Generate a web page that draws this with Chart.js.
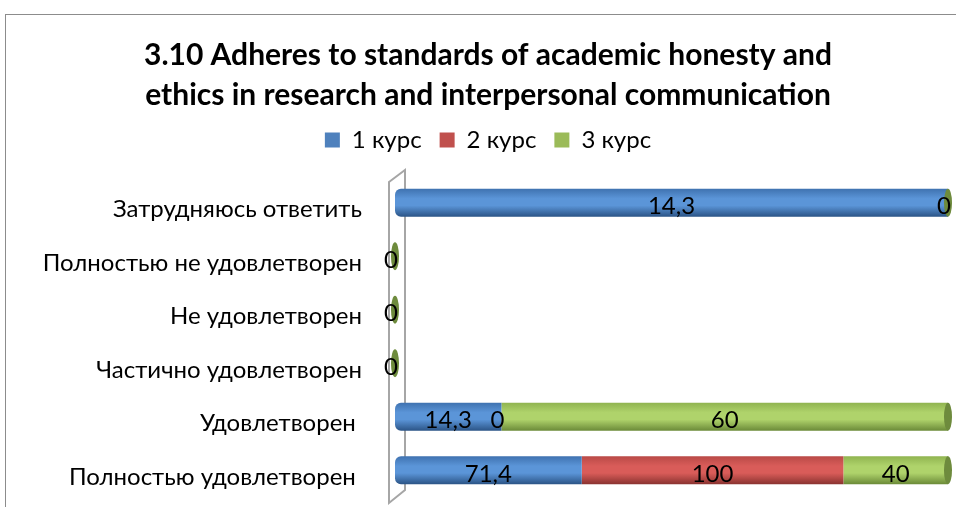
<!DOCTYPE html>
<html>
<head>
<meta charset="utf-8">
<script src="https://cdn.jsdelivr.net/npm/chart.js@4.4.1/dist/chart.umd.min.js"></script>
<style>
  body { margin: 0; background: #fff; overflow: hidden; }
  #frame { position: absolute; left: 5px; top: 14px; width: 1000px; height: 600px; border: 1px solid #8c8c8c; }
  #wrap { position: absolute; left: 0; top: 0; width: 956px; height: 507px; }
</style>
</head>
<body>
<div id="frame"></div>
<div id="wrap"><canvas id="bar-chart"></canvas></div>
<script>
const categories = [
  "Затрудняюсь ответить",
  "Полностью не удовлетворен",
  "Не удовлетворен",
  "Частично удовлетворен",
  "Удовлетворен ",
  "Полностью удовлетворен "
];
const seriesNames = ["1 курс", "2 курс", "3 курс"];
const kurs1 = [14.3, null, null, null, 14.3, 71.4];
const kurs2 = [null, null, null, null, 0, 100];
const kurs3 = [0, 0, 0, 0, 60, 40];

const FONT = "Lato, 'Noto Sans', sans-serif";
const colors = [
  { top: "#3f72b0", mid: "#5b95d8", bot: "#2b5486" },
  { top: "#b94a47", mid: "#d95c59", bot: "#8a3330" },
  { top: "#90b450", mid: "#afd36b", bot: "#6b8a38" }
];
const legendColors = ["#4f81bd", "#c0504d", "#9bbb59"];
const capColor = "#6e8b3d";

const raw = [kurs1, kurs2, kurs3];
// 100% stacked: turn each row into shares
const totals = categories.map((c, i) => raw.reduce((s, arr) => s + (arr[i] || 0), 0));
const shares = raw.map(arr => arr.map((v, i) => v === null ? null : (totals[i] ? v / totals[i] * 100 : 0)));

function cylinder(idx) {
  return function (ctx) {
    const chart = ctx.chart;
    const ys = chart.scales.y;
    if (!chart.chartArea || !ys) return legendColors[idx];
    const y = ys.getPixelForValue(ctx.dataIndex);
    const half = Math.abs(ys.getPixelForValue(1) - ys.getPixelForValue(0)) * 0.9 * 0.58 / 2;
    const g = chart.ctx.createLinearGradient(0, y - half, 0, y + half);
    g.addColorStop(0, colors[idx].top);
    g.addColorStop(0.35, colors[idx].mid);
    g.addColorStop(0.6, colors[idx].mid);
    g.addColorStop(1, colors[idx].bot);
    return g;
  };
}

const wallPlugin = {
  id: "wall",
  beforeDatasetsDraw(chart) {
    const { ctx, chartArea: a } = chart;
    ctx.save();
    ctx.strokeStyle = "#a6a6a6";
    ctx.lineWidth = 2;
    ctx.beginPath();
    ctx.moveTo(a.left - 6, a.top + 6);
    ctx.lineTo(a.left + 10, a.top - 6);
    ctx.lineTo(a.left + 10, a.bottom - 7);
    ctx.lineTo(a.left - 6, a.bottom + 6);
    ctx.closePath();
    ctx.stroke();
    ctx.restore();
  }
};

const labelPlugin = {
  id: "valueLabels",
  afterDatasetsDraw(chart) {
    const ctx = chart.ctx;
    ctx.save();
    // end caps of the cylinders
    categories.forEach((c, i) => {
      let last = -1;
      raw.forEach((arr, d) => { if (arr[i] !== null) last = d; });
      if (last < 0) return;
      const el = chart.getDatasetMeta(last).data[i];
      ctx.fillStyle = capColor;
      ctx.beginPath();
      ctx.ellipse(el.x, el.y, 4, el.height / 2, 0, 0, Math.PI * 2);
      ctx.fill();
    });
    ctx.font = "24px " + FONT;
    ctx.fillStyle = "#000";
    ctx.textBaseline = "middle";
    raw.forEach((arr, d) => {
      const meta = chart.getDatasetMeta(d);
      arr.forEach((v, i) => {
        if (v === null) return;
        const el = meta.data[i];
        const txt = String(v).replace(".", ",");
        if (v === 0) {
          ctx.textAlign = "right";
          ctx.fillText(txt, el.x + 3, el.y + 4);
        } else {
          ctx.textAlign = "center";
          ctx.fillText(txt, (el.base + el.x) / 2, el.y + 4);
        }
      });
    });
    ctx.restore();
  }
};

new Chart(document.getElementById("bar-chart"), {
  type: "bar",
  data: {
    labels: categories,
    datasets: seriesNames.map((name, d) => ({
      label: name,
      data: shares[d],
      backgroundColor: cylinder(d),
      borderWidth: 0,
      borderSkipped: d === 0 ? false : "start",
      borderRadius: d === 0 ? { topLeft: 6, bottomLeft: 6, topRight: 0, bottomRight: 0 } : 0,
      barPercentage: 0.9,
      categoryPercentage: 0.58
    }))
  },
  plugins: [wallPlugin, labelPlugin],
  options: {
    indexAxis: "y",
    responsive: true,
    maintainAspectRatio: false,
    animation: false,
    layout: { padding: { left: 28, right: 8, top: 0, bottom: 10 } },
    scales: {
      x: {
        stacked: true,
        min: 0,
        max: 100,
        position: "top",
        ticks: { display: false },
        grid: { display: false, drawTicks: false },
        border: { display: false },
        afterFit(scale) { scale.height = 14; }
      },
      y: {
        stacked: true,
        grid: { display: false, drawTicks: false },
        border: { display: false },
        ticks: {
          padding: 33,
          labelOffset: 7,
          color: "#000",
          font: { family: FONT, size: 24 }
        },
        afterFit(scale) {
          scale.width = 367;
          scale.paddingTop = 0;
          scale.paddingBottom = 0;
        }
      }
    },
    plugins: {
      tooltip: { enabled: false },
      title: {
        display: true,
        text: [
          "3.10 Adheres to standards of academic honesty and",
          "ethics in research and interpersonal communication"
        ],
        color: "#000",
        font: { family: FONT, size: 30, weight: "bold", lineHeight: 40 / 30 },
        padding: { top: 35, bottom: -5 }
      },
      legend: {
        position: "top",
        labels: {
          color: "#000",
          boxWidth: 15,
          boxHeight: 15,
          padding: 18,
          font: { family: FONT, size: 24 },
          generateLabels(chart) {
            return seriesNames.map((name, d) => ({
              text: name,
              fillStyle: legendColors[d],
              strokeStyle: legendColors[d],
              lineWidth: 0,
              datasetIndex: d
            }));
          }
        }
      }
    }
  }
});
</script>
</body>
</html>
